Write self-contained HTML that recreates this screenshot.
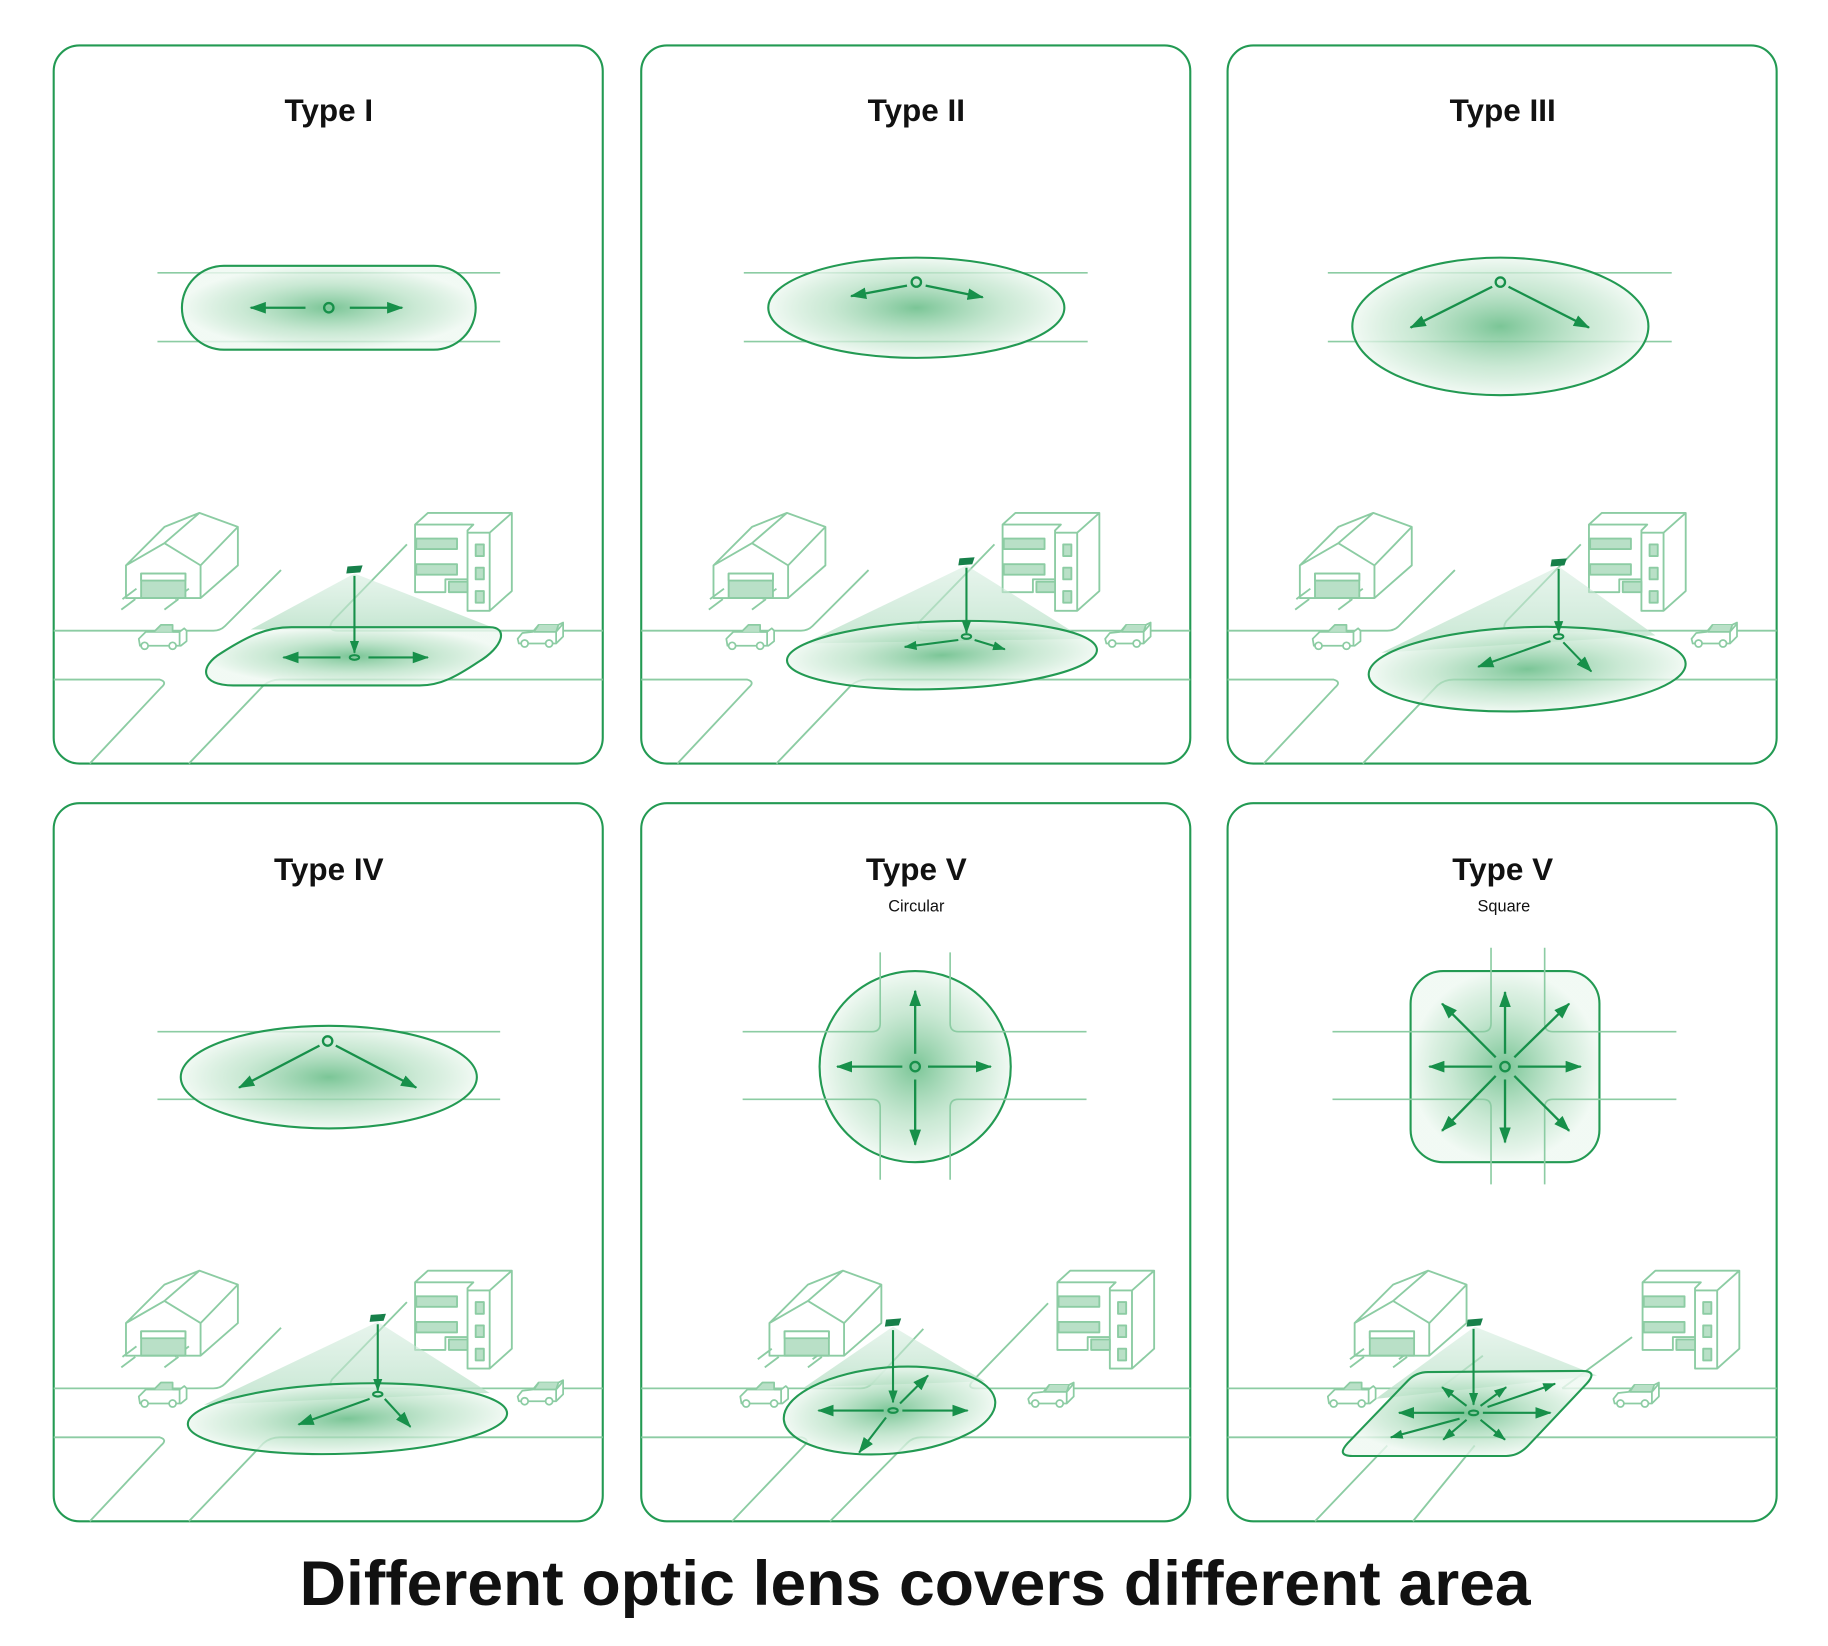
<!DOCTYPE html>
<html><head><meta charset="utf-8"><style>
html,body{margin:0;padding:0;background:#fff;}
svg{display:block;}
</style></head><body>
<svg width="1828" height="1646" viewBox="0 0 1568 1412" xmlns="http://www.w3.org/2000/svg">
<defs>
<radialGradient id="g" cx="50%" cy="50%" r="50%">
<stop offset="0" stop-color="#6cbf8b" stop-opacity="0.9"/>
<stop offset="0.6" stop-color="#b5e0c3" stop-opacity="0.7"/>
<stop offset="1" stop-color="#eef8f1" stop-opacity="0.8"/>
</radialGradient>
<linearGradient id="cone" x1="0" y1="0" x2="0" y2="1">
<stop offset="0" stop-color="#cfeada" stop-opacity="0.5"/>
<stop offset="1" stop-color="#b7e0c6" stop-opacity="0.8"/>
</linearGradient>
<marker id="a" viewBox="0 0 14 10" refX="13" refY="5" markerWidth="14" markerHeight="10" markerUnits="userSpaceOnUse" orient="auto">
<path d="M0,0 L14,5 L0,10 Z" fill="#17904a"/></marker>
<marker id="s" viewBox="0 0 14 10" refX="13" refY="5" markerWidth="11" markerHeight="8" markerUnits="userSpaceOnUse" orient="auto">
<path d="M0,0 L14,5 L0,10 Z" fill="#17904a"/></marker>
<g id="house" fill="none" stroke="#8ccca3" stroke-width="1.6" stroke-linejoin="round">
<rect x="13" y="52" width="38" height="21" fill="#b9e0c7"/>
<rect x="13" y="52" width="38" height="6" fill="#fff"/>
<path d="M0,73 L0,45 L33,12 L63,0 L96,12 L96,45 L64,73 Z M0,45 L33,26 L64,45 L64,73 M33,26 L63,0 M64,45 L96,12" />
<path d="M-4,83 L8,74 M33,83 L45,74"/>
</g>
<g id="bldg" fill="none" stroke="#8ccca3" stroke-width="1.6" stroke-linejoin="round">
<path d="M0,10 L0,68 L26,68 L26,57 L45,57 L45,84 L64,84 L83,67 L83,0 L11,0 L0,10 Z M0,10 L50,10 L45,15 L45,57 M45,17 L64,17 L83,0 M64,17 L64,84"/>
<rect x="1" y="22" width="35" height="9" fill="#b9e0c7"/>
<rect x="1" y="44" width="35" height="9" fill="#b9e0c7"/>
<rect x="29" y="59" width="16" height="9" fill="#b9e0c7"/>
<rect x="52" y="27" width="7" height="10" fill="#b9e0c7"/>
<rect x="52" y="47" width="7" height="10" fill="#b9e0c7"/>
<rect x="52" y="67" width="7" height="10" fill="#b9e0c7"/>
</g>
<g id="car" fill="none" stroke="#8ccca3" stroke-width="1.5" stroke-linejoin="round">
<path d="M1,9 L7,3 L36,3 L40,0 L42,2 L42,11 L37,15 L2,15 Z" fill="#fff"/>
<path d="M14,3 L20,-3 L30,-3 L30,3" fill="#b9e0c7"/>
<path d="M36,3 L36,15 M30,3 L36,3"/>
<circle cx="6" cy="15" r="3" fill="#fff"/><circle cx="30" cy="15" r="3" fill="#fff"/>
</g>
<g id="car2" fill="none" stroke="#8ccca3" stroke-width="1.5" stroke-linejoin="round">
<path d="M1,11 L5,6 L14,5 L19,-1 L36,-1 L40,-3 L40,9 L34,15 L2,15 Z" fill="#fff"/>
<path d="M19,-1 L15,5 L34,5 L36,-1" fill="#b9e0c7"/>
<path d="M34,5 L34,15 M34,5 L40,-2"/>
<circle cx="7" cy="15" r="3" fill="#fff"/><circle cx="28" cy="15" r="3" fill="#fff"/>
</g>
<g id="roads" fill="none" stroke="#8ccca3" stroke-width="1.6">
<path d="M46,541 L183,541 Q189,541 193,537 L241,489"/>
<path d="M46,583 L137,583 Q144,585 138,590 L77,655"/>
<path d="M349,467 L285,533 Q280,541 290,541 L517,541"/>
<path d="M517,583 L240,583 Q232,583 226,588 L162,655"/>
<path d="M105,514 L117,505 M150,514 L162,505"/>
</g>
</defs>

<g fill="none" stroke="#239a53" stroke-width="1.8">
<rect x="46" y="39" width="471" height="616" rx="22"/>
<rect x="550" y="39" width="471" height="616" rx="22"/>
<rect x="1053" y="39" width="471" height="616" rx="22"/>
<rect x="46" y="689" width="471" height="616" rx="22"/>
<rect x="550" y="689" width="471" height="616" rx="22"/>
<rect x="1053" y="689" width="471" height="616" rx="22"/>
</g>

<g font-family="Liberation Sans, sans-serif" font-weight="bold" fill="#111" text-anchor="middle">
<text x="282" y="104" font-size="27">Type I</text>
<text x="786" y="104" font-size="27">Type II</text>
<text x="1289" y="104" font-size="27">Type III</text>
<text x="282" y="755" font-size="27">Type IV</text>
<text x="786" y="755" font-size="27">Type V</text>
<text x="786" y="782" font-size="14" font-weight="normal">Circular</text>
<text x="1289" y="755" font-size="27">Type V</text>
<text x="1290" y="782" font-size="14" font-weight="normal">Square</text>
<text x="785" y="1377" font-size="54" textLength="1056" lengthAdjust="spacingAndGlyphs">Different optic lens covers different area</text>
</g>

<!-- top diagrams -->
<g stroke="#8ccca3" stroke-width="1.4" fill="none">
<path d="M135,234 H429 M135,293 H429"/>
<path d="M638,234 H933 M638,293 H933"/>
<path d="M1139,234 H1434 M1139,293 H1434"/>
<path d="M135,885 H429 M135,943 H429"/>
</g>
<g stroke="#239a53" stroke-width="1.8">
<rect x="156" y="228" width="252" height="72" rx="36" fill="url(#g)"/>
<ellipse cx="786" cy="264" rx="127" ry="43" fill="url(#g)"/>
<ellipse cx="1287" cy="280" rx="127" ry="59" fill="url(#g)"/>
<ellipse cx="282" cy="924" rx="127" ry="44" fill="url(#g)"/>
<circle cx="785" cy="915" r="82" fill="url(#g)"/>
<rect x="1210" y="833" width="162" height="164" rx="28" fill="url(#g)"/>
</g>
<g stroke="#8ccca3" stroke-width="1.4" fill="none">
<path d="M637,885 H748 Q755,885 755,878 V817 M815,817 V878 Q815,885 822,885 H932 M637,943 H748 Q755,943 755,950 V1012 M815,1012 V950 Q815,943 822,943 H932"/>
<path d="M1143,885 H1272 Q1279,885 1279,878 V813 M1325,813 V878 Q1325,885 1332,885 H1438 M1143,943 H1272 Q1279,943 1279,950 V1016 M1325,1016 V950 Q1325,943 1332,943 H1438"/>
</g>
<g stroke="#17904a" stroke-width="2" fill="none">
<circle cx="282" cy="264" r="4"/>
<path d="M262,264 H215" marker-end="url(#a)"/><path d="M300,264 H345" marker-end="url(#a)"/>
<circle cx="786" cy="242" r="4"/>
<path d="M778,245 L730,254" marker-end="url(#a)"/><path d="M794,245 L843,255" marker-end="url(#a)"/>
<circle cx="1287" cy="242" r="4"/>
<path d="M1280,246 L1210,281" marker-end="url(#a)"/><path d="M1294,246 L1363,281" marker-end="url(#a)"/>
<circle cx="281" cy="893" r="4"/>
<path d="M274,897 L205,933" marker-end="url(#a)"/><path d="M288,897 L357,933" marker-end="url(#a)"/>
<circle cx="785" cy="915" r="4"/>
<path d="M785,904 V850" marker-end="url(#a)"/><path d="M785,926 V982" marker-end="url(#a)"/>
<path d="M774,915 H718" marker-end="url(#a)"/><path d="M796,915 H850" marker-end="url(#a)"/>
<circle cx="1291" cy="915" r="4"/>
<path d="M1291,904 V851" marker-end="url(#a)"/><path d="M1291,926 V980" marker-end="url(#a)"/>
<path d="M1280,915 H1226" marker-end="url(#a)"/><path d="M1302,915 H1356" marker-end="url(#a)"/>
<path d="M1283,907 L1237,861" marker-end="url(#a)"/><path d="M1299,907 L1346,861" marker-end="url(#a)"/>
<path d="M1283,923 L1237,970" marker-end="url(#a)"/><path d="M1299,923 L1346,970" marker-end="url(#a)"/>
</g>

<!-- scenes cards 1-4 -->
<g id="scene1">
<use href="#roads"/>
<use href="#house" x="108" y="440"/>
<use href="#bldg" x="356" y="440"/>
<use href="#car" x="118" y="539"/>
<use href="#car2" x="443" y="537"/>
</g>
<use href="#scene1" x="504" y="0"/>
<use href="#scene1" x="1007" y="0"/>
<use href="#scene1" x="0" y="650"/>

<!-- card 1 ground -->
<path d="M304,492 L215,540 L427,540 Z" fill="url(#cone)"/>
<path d="M200,588 C172,588 170,572 190,560 C212,546 228,538 250,538 L420,538 C436,538 432,555 410,568 C392,580 378,588 360,588 Z" fill="url(#g)" stroke="#239a53" stroke-width="1.8"/>
<path d="M298,486 L311,485 L309,491 L297,492 Z" fill="#17804a"/>
<g stroke="#17904a" stroke-width="1.8" fill="none">
<path d="M304,494 V560" marker-end="url(#s)"/>
<ellipse cx="304" cy="564" rx="4" ry="2"/>
<path d="M292,564 H243" marker-end="url(#a)"/><path d="M316,564 H367" marker-end="url(#a)"/>
</g>

<!-- card 2 -->
<path d="M829,485 L690,552 L930,548 Z" fill="url(#cone)"/>
<ellipse cx="808" cy="562" rx="133" ry="29" fill="url(#g)" stroke="#239a53" stroke-width="1.8" transform="rotate(-2 808 562)"/>
<path d="M823,479 L836,478 L834,484 L822,485 Z" fill="#17804a"/>
<g stroke="#17904a" stroke-width="1.8" fill="none">
<path d="M829,487 V543" marker-end="url(#s)"/>
<ellipse cx="829" cy="546" rx="4" ry="2"/>
<path d="M822,549 L776,555" marker-end="url(#s)"/><path d="M836,549 L862,557" marker-end="url(#s)"/>
</g>

<!-- card 3 -->
<path d="M1337,486 L1185,560 L1420,545 Z" fill="url(#cone)"/>
<ellipse cx="1310" cy="574" rx="136" ry="36" fill="url(#g)" stroke="#239a53" stroke-width="1.8" transform="rotate(-2 1310 574)"/>
<path d="M1331,480 L1344,479 L1342,485 L1330,486 Z" fill="#17804a"/>
<g stroke="#17904a" stroke-width="1.8" fill="none">
<path d="M1337,488 V543" marker-end="url(#s)"/>
<ellipse cx="1337" cy="546" rx="4" ry="2"/>
<path d="M1330,550 L1268,572" marker-end="url(#a)"/><path d="M1341,551 L1365,576" marker-end="url(#a)"/>
</g>

<!-- card 4 -->
<path d="M324,1134 L175,1205 L420,1195 Z" fill="url(#cone)"/>
<ellipse cx="298" cy="1217" rx="137" ry="30" fill="url(#g)" stroke="#239a53" stroke-width="1.8" transform="rotate(-2 298 1217)"/>
<path d="M318,1128 L331,1127 L329,1133 L317,1134 Z" fill="#17804a"/>
<g stroke="#17904a" stroke-width="1.8" fill="none">
<path d="M324,1136 V1193" marker-end="url(#s)"/>
<ellipse cx="324" cy="1196" rx="4" ry="2"/>
<path d="M317,1200 L256,1222" marker-end="url(#a)"/><path d="M330,1200 L352,1224" marker-end="url(#a)"/>
</g>

<!-- card 5 scene -->
<g fill="none" stroke="#8ccca3" stroke-width="1.6">
<path d="M550,1191 H738 Q744,1191 748,1187 L792,1140"/>
<path d="M838,1191 H1021 M838,1191 Q828,1191 835,1184 L899,1118"/>
<path d="M550,1233 H688 Q695,1235 690,1240 L628,1305"/>
<path d="M1021,1233 H790 Q783,1233 778,1238 L712,1305"/>
<path d="M650,1166 L662,1157 M697,1166 L709,1157"/>
</g>
<use href="#house" x="660" y="1090"/>
<use href="#bldg" x="907" y="1090"/>
<use href="#car" x="634" y="1189"/>
<use href="#car2" x="881" y="1189"/>
<path d="M766,1138 L690,1190 L845,1185 Z" fill="url(#cone)"/>
<ellipse cx="763" cy="1210" rx="91" ry="37" fill="url(#g)" stroke="#239a53" stroke-width="1.8" transform="rotate(-5 763 1210)"/>
<path d="M760,1132 L773,1131 L771,1137 L759,1138 Z" fill="#17804a"/>
<g stroke="#17904a" stroke-width="1.8" fill="none">
<path d="M766,1141 V1203" marker-end="url(#s)"/>
<ellipse cx="766" cy="1210" rx="4" ry="2"/>
<path d="M758,1210 H702" marker-end="url(#a)"/><path d="M774,1210 H830" marker-end="url(#a)"/>
<path d="M772,1204 L796,1180" marker-end="url(#a)"/><path d="M760,1216 L737,1246" marker-end="url(#a)"/>
</g>

<!-- card 6 scene -->
<g fill="none" stroke="#8ccca3" stroke-width="1.6">
<path d="M1053,1191 H1235 L1272,1163"/>
<path d="M1340,1191 H1524 M1340,1191 L1400,1147"/>
<path d="M1053,1233 H1524"/>
<path d="M1190,1240 L1128,1305 M1265,1240 L1212,1305"/>
<path d="M1158,1166 L1170,1157 M1200,1166 L1212,1157"/>
</g>
<use href="#house" x="1162" y="1090"/>
<use href="#bldg" x="1409" y="1090"/>
<use href="#car" x="1138" y="1189"/>
<use href="#car2" x="1383" y="1189"/>
<path d="M1265,1138 L1180,1200 L1370,1180 Z" fill="url(#cone)"/>
<path d="M1160,1249 Q1146,1249 1156,1238 L1208,1184 Q1215,1177 1225,1177 L1357,1176 Q1371,1176 1361,1187 L1310,1241 Q1302,1249 1292,1249 Z" fill="url(#g)" stroke="#239a53" stroke-width="1.8"/>
<path d="M1259,1132 L1272,1131 L1270,1137 L1258,1138 Z" fill="#17804a"/>
<g stroke="#17904a" stroke-width="1.8" fill="none">
<path d="M1264,1140 V1205" marker-end="url(#s)"/>
<ellipse cx="1264" cy="1212" rx="4" ry="2"/>
<path d="M1256,1212 H1200" marker-end="url(#a)"/><path d="M1272,1212 H1330" marker-end="url(#a)"/>
<path d="M1258,1206 L1237,1190" marker-end="url(#s)"/><path d="M1270,1206 L1292,1190" marker-end="url(#s)"/>
<path d="M1258,1218 L1238,1235" marker-end="url(#s)"/><path d="M1270,1218 L1291,1235" marker-end="url(#s)"/>
<path d="M1276,1207 L1334,1187" marker-end="url(#s)"/><path d="M1252,1217 L1193,1233" marker-end="url(#s)"/>
</g>
</svg>
</body></html>
